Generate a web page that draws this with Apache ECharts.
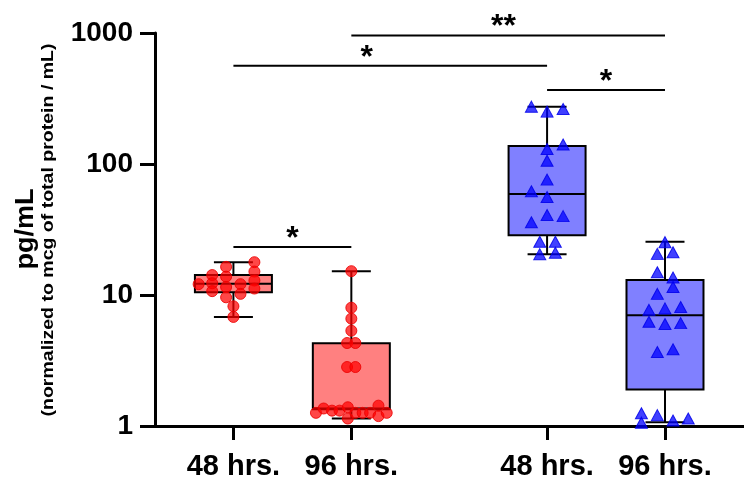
<!DOCTYPE html>
<html>
<head>
<meta charset="utf-8">
<script src="https://cdn.jsdelivr.net/npm/echarts@6/dist/echarts.min.js"></script>
<style>
  html, body { margin: 0; padding: 0; background: #fff; }
  #main { width: 744px; height: 479px; }
</style>
</head>
<body>
<div id="main"></div>
<script>
// group positions on the x axis and their labels
var groupX = [1, 2, 3.66, 4.66];
var groupLabels = ['48 hrs.', '96 hrs.', '48 hrs.', '96 hrs.'];

// box plot stats per group (pg/mL)
var whiskerLow  = [6.8, 1.14, 20.5, 1.07];
var q1          = [10.5, 1.34, 28.6, 1.9];
var median      = [12.2, 1.36, 59, 7.0];
var q3          = [14.2, 4.28, 137, 13.0];
var whiskerHigh = [17.8, 15.2, 274, 25.5];

// individual points: values and horizontal jitter
var red48Values = [12.1, 14.2, 12.3, 10.7, 16.4, 13.8, 11.5, 9.6, 8.2, 6.8, 12.1, 10.2, 17.8, 15.1, 12.9, 11.2];
var red48Jitter = [-0.295, -0.18, -0.18, -0.18, -0.062, -0.062, -0.062, -0.062, 0, 0, 0.06, 0.06, 0.178, 0.178, 0.178, 0.178];

var red96Values = [15.2, 8.0, 6.6, 5.34, 4.3, 4.3, 2.82, 2.82, 1.26, 1.36, 1.31, 1.31, 1.39, 1.14, 1.26, 1.26, 1.26, 1.43, 1.19, 1.26];
var red96Jitter = [0, 0, 0, 0, -0.036, 0.034, -0.036, 0.034, -0.30, -0.235, -0.164, -0.10, -0.03, -0.03, 0.034, 0.096, 0.159, 0.23, 0.23, 0.30];

var blue48Values = [274, 251, 263, 130, 141, 106, 76, 62, 56, 35.9, 40.8, 40, 25.5, 25.5, 20.5, 21];
var blue48Jitter = [-0.133, 0, 0.136, 0, 0.136, 0, 0, -0.133, 0, -0.133, 0, 0.136, -0.062, 0.07, -0.062, 0.07];

var blue96Values = [25.3, 20.6, 21.2, 14.9, 13.6, 11.5, 10.2, 7.7, 7.9, 8.1, 6.25, 6.0, 6.1, 3.67, 3.85, 1.25, 1.06, 1.21, 1.10, 1.14];
var blue96Jitter = [0, -0.065, 0.068, -0.065, 0.068, 0.068, -0.065, -0.136, 0, 0.133, -0.136, 0, 0.133, -0.065, 0.068, -0.2, -0.2, -0.065, 0.068, 0.197];

// significance brackets: from x, to x, y value, label, label x
var bracketFrom  = [1, 1, 2, 3.66];
var bracketTo    = [2, 3.66, 4.66, 4.66];
var bracketY     = [23.2, 563, 955, 367];
var bracketText  = ['*', '*', '**', '*'];
var bracketTextX = [1.5, 2.13, 3.29, 4.16];

var FONT = 'Liberation Sans, Arial, sans-serif';
var boxFill = ['#FF8080', '#FF8080', '#8080FF', '#8080FF'];

function points(gi, values, jitter) {
  return values.map(function (v, i) { return [groupX[gi] + jitter[i], v]; });
}

var boxData = groupX.map(function (x, i) {
  return [x, whiskerLow[i], q1[i], median[i], q3[i], whiskerHigh[i]];
});
var bracketData = bracketFrom.map(function (f, i) {
  return [f, bracketTo[i], bracketY[i], bracketTextX[i]];
});

var chart = echarts.init(document.getElementById('main'));

chart.setOption({
  animation: false,
  backgroundColor: '#fff',
  grid: { left: 155, right: 0, top: 33, bottom: 53, outerBoundsMode: 'none', containLabel: false },
  xAxis: {
    type: 'value',
    min: 0.335,
    max: 5.33,
    axisLine: { lineStyle: { color: '#000', width: 3 } },
    axisTick: { show: true, customValues: groupX, length: 14, lineStyle: { color: '#000', width: 3 } },
    axisLabel: {
      customValues: groupX,
      formatter: function (v) {
        var i = groupX.indexOf(v);
        return i >= 0 ? groupLabels[i] : '';
      },
      color: '#000', fontSize: 29, fontWeight: 'bold', fontFamily: FONT, margin: 26
    },
    splitLine: { show: false }
  },
  yAxis: {
    type: 'log',
    logBase: 10,
    min: 1,
    max: 1000,
    axisLine: { show: true, lineStyle: { color: '#000', width: 3 } },
    axisTick: { show: true, length: 15, lineStyle: { color: '#000', width: 3 } },
    axisLabel: {
      formatter: function (v) { return String(Math.round(v)); },
      color: '#000', fontSize: 28, fontWeight: 'bold', fontFamily: FONT, margin: 22
    },
    splitLine: { show: false }
  },
  graphic: [
    {
      type: 'text', x: 26, y: 229, rotation: Math.PI / 2, scaleX: 1.08,
      style: { text: 'pg/mL', font: 'bold 25px ' + FONT, fill: '#000', align: 'center', verticalAlign: 'middle' }
    },
    {
      type: 'text', x: 49, y: 230, rotation: Math.PI / 2, scaleX: 1.22,
      style: { text: '(normalized to mcg of total protein / mL)', font: 'bold 16px ' + FONT, fill: '#000', align: 'center', verticalAlign: 'middle' }
    }
  ],
  series: [
    {
      type: 'custom',
      z: 1,
      data: boxData,
      renderItem: function (params, api) {
        var x = api.value(0);
        var lo = api.coord([x, api.value(1)]);
        var b = api.coord([x, api.value(2)]);
        var m = api.coord([x, api.value(3)]);
        var t = api.coord([x, api.value(4)]);
        var hi = api.coord([x, api.value(5)]);
        var cx = lo[0], half = 38.5, cap = 19.5;
        var line = { stroke: '#000', lineWidth: 2 };
        return {
          type: 'group',
          children: [
            { type: 'line', shape: { x1: cx, y1: t[1], x2: cx, y2: hi[1] }, style: line },
            { type: 'line', shape: { x1: cx, y1: b[1], x2: cx, y2: lo[1] }, style: line },
            { type: 'line', shape: { x1: cx - cap, y1: hi[1], x2: cx + cap, y2: hi[1] }, style: line },
            { type: 'line', shape: { x1: cx - cap, y1: lo[1], x2: cx + cap, y2: lo[1] }, style: line },
            { type: 'rect', shape: { x: cx - half, y: t[1], width: half * 2, height: b[1] - t[1] },
              style: { fill: boxFill[params.dataIndex], stroke: '#000', lineWidth: 2 } },
            { type: 'line', shape: { x1: cx - half, y1: m[1], x2: cx + half, y2: m[1] }, style: line }
          ]
        };
      }
    },
    {
      type: 'scatter', z: 2, symbol: 'circle', symbolSize: 11,
      itemStyle: { color: 'rgba(255,0,0,0.72)', borderColor: 'rgba(235,0,0,0.85)', borderWidth: 1, opacity: 1 },
      data: points(0, red48Values, red48Jitter)
    },
    {
      type: 'scatter', z: 2, symbol: 'circle', symbolSize: 11,
      itemStyle: { color: 'rgba(255,0,0,0.72)', borderColor: 'rgba(235,0,0,0.85)', borderWidth: 1, opacity: 1 },
      data: points(1, red96Values, red96Jitter)
    },
    {
      type: 'scatter', z: 2, symbol: 'triangle', symbolSize: [12, 11],
      itemStyle: { color: 'rgba(0,0,255,0.75)', borderColor: 'rgba(0,0,235,0.85)', borderWidth: 1, opacity: 1 },
      data: points(2, blue48Values, blue48Jitter)
    },
    {
      type: 'scatter', z: 2, symbol: 'triangle', symbolSize: [12, 11],
      itemStyle: { color: 'rgba(0,0,255,0.75)', borderColor: 'rgba(0,0,235,0.85)', borderWidth: 1, opacity: 1 },
      data: points(3, blue96Values, blue96Jitter)
    },
    {
      type: 'custom',
      z: 3,
      data: bracketData,
      renderItem: function (params, api) {
        var p1 = api.coord([api.value(0), api.value(2)]);
        var p2 = api.coord([api.value(1), api.value(2)]);
        var pt = api.coord([api.value(3), api.value(2)]);
        return {
          type: 'group',
          children: [
            { type: 'line', shape: { x1: p1[0], y1: p1[1], x2: p2[0], y2: p2[1] }, style: { stroke: '#000', lineWidth: 2 } },
            { type: 'text', style: { text: bracketText[params.dataIndex], x: pt[0], y: p1[1] - 8,
                font: 'bold 32px ' + FONT, fill: '#000', align: 'center', verticalAlign: 'middle' } }
          ]
        };
      }
    }
  ]
});
</script>
</body>
</html>
